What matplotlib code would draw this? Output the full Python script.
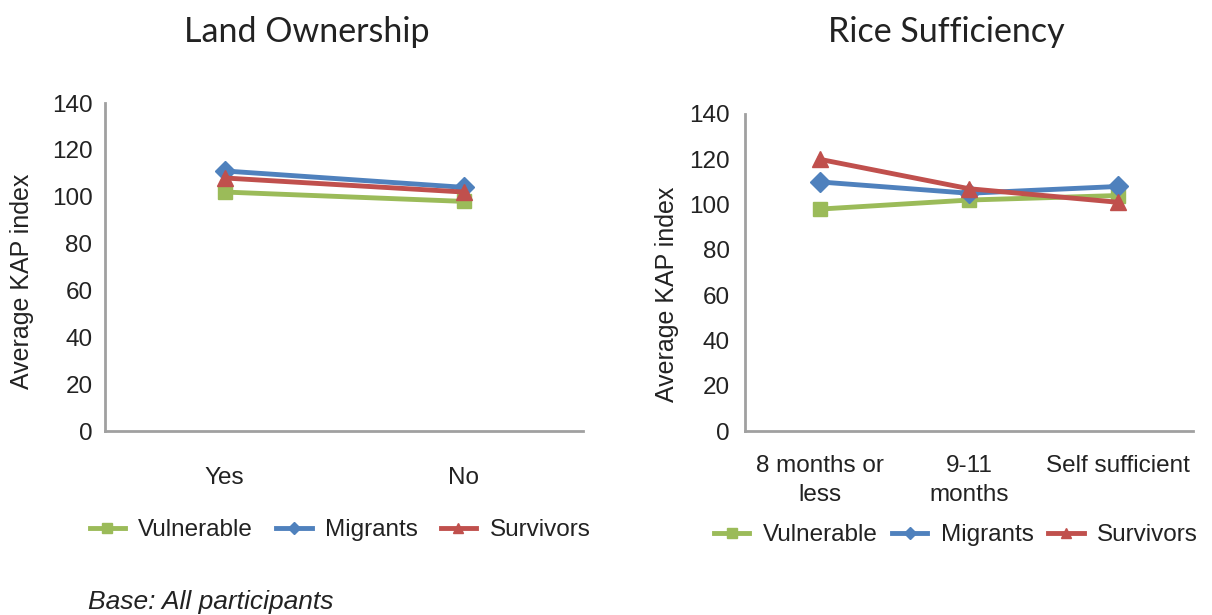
import matplotlib
matplotlib.use("Agg")
import matplotlib.pyplot as plt

# Data
land_categories = ["Yes", "No"]
land_vulnerable = [102, 98]
land_migrants = [111, 104]
land_survivors = [108, 102]

rice_categories = ["8 months or\nless", "9-11\nmonths", "Self sufficient"]
rice_vulnerable = [98, 102, 104]
rice_migrants = [110, 105, 108]
rice_survivors = [120, 107, 101]

y_ticks = [0, 20, 40, 60, 80, 100, 120, 140]

GREEN = "#9BBB59"
BLUE = "#4F81BD"
RED = "#C0504D"
SPINE = "#A0A0A0"
TEXT = "#222222"

plt.rcParams["font.family"] = ["Liberation Sans", "DejaVu Sans"]

fig = plt.figure(figsize=(12.12, 6.15), dpi=100)
ax1 = fig.add_axes([105 / 1212, 1 - 431 / 615, 478 / 1212, 328 / 615])
ax2 = fig.add_axes([745 / 1212, 1 - 431 / 615, 448 / 1212, 317 / 615])


def draw(ax, cats, vul, mig, sur, title, title_x, legend_anchor, xpad, ypad,
         colsp, label_pos):
    x = list(range(len(cats)))
    ax.plot(x, vul, color=GREEN, lw=3.5, marker="s", ms=10, label="Vulnerable")
    ax.plot(x, mig, color=BLUE, lw=3.5, marker="D", ms=10, label="Migrants")
    ax.plot(x, sur, color=RED, lw=3.5, marker="^", ms=12, label="Survivors")
    ax.set_xlim(-0.5, len(cats) - 0.5)
    ax.set_ylim(0, 140)
    ax.set_yticks(y_ticks)
    ax.set_xticks(x)
    ax.set_xticklabels(cats, fontsize=17.5, color=TEXT, linespacing=1.45)
    ax.tick_params(axis="y", labelsize=17.5, labelcolor=TEXT, length=0, pad=ypad)
    ax.tick_params(axis="x", length=0, pad=xpad)
    for s in ("top", "right"):
        ax.spines[s].set_visible(False)
    for s in ("left", "bottom"):
        ax.spines[s].set_color(SPINE)
        ax.spines[s].set_linewidth(2)
    ax.set_ylabel("Average KAP index", fontsize=18, color=TEXT)
    ax.yaxis.set_label_coords(*label_pos)
    fig.text(title_x, 1 - 32 / 615, title, fontsize=24.5, family=["Lato", "DejaVu Sans"],
             color=TEXT, ha="center", va="center")
    ax.legend(loc="center", bbox_to_anchor=legend_anchor, bbox_transform=fig.transFigure,
              ncol=3, frameon=False, fontsize=17.5, handlelength=1.45, handletextpad=0.55,
              columnspacing=colsp, markerscale=0.65, labelcolor=TEXT)


draw(ax1, land_categories, land_vulnerable, land_migrants, land_survivors,
     "Land Ownership", 307 / 1212, (340 / 1212, 1 - 530 / 615), 26, 9, 0.95,
     (-0.149, 0.457))
draw(ax2, rice_categories, rice_vulnerable, rice_migrants, rice_survivors,
     "Rice Sufficiency", 946 / 1212, (956 / 1212, 1 - 535 / 615), 17, 11, 0.6,
     (-0.147, 0.432))

fig.text(88 / 1212, 1 - 602 / 615, "Base: All participants", fontsize=19,
         style="italic", color=TEXT, ha="left", va="center")

fig.savefig("out.png", dpi=100)
